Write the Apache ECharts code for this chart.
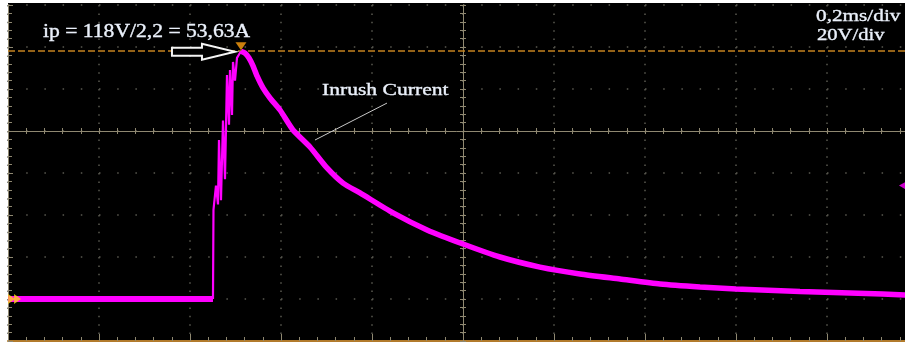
<!DOCTYPE html>
<html>
<head>
<meta charset="utf-8">
<script src="https://cdn.jsdelivr.net/npm/echarts@6/dist/echarts.min.js"></script>
<style>
  html, body { margin: 0; padding: 0; background: #ffffff; }
  #scope { width: 905px; height: 344px; }
</style>
</head>
<body>
<div id="scope"></div>
<script>
// Inrush current capture: 0.2 ms/div horizontally, 20 V/div vertically (shunt 2.2 ohm)

// Flat trace before switch-on (time in ms, voltage in V)
const baselineT = [0, 0.4505];
const baselineV = [0, 0];

// Bouncing contact burst on the rising edge
const burstT = [0.4505, 0.4516, 0.4571, 0.4615, 0.4637, 0.4681, 0.4725, 0.4769, 0.4813, 0.4857, 0.4879, 0.4923, 0.4945, 0.4989, 0.5033, 0.512];
const burstV = [0, 42.4, 54, 45, 75.7, 47, 85, 57, 106.7, 83, 109, 87.6, 112.9, 104, 114.8, 118];

// Peak and exponential-like decay
const decayT = [0.512, 0.5209, 0.5297, 0.5385, 0.5473, 0.5604, 0.5758, 0.5978, 0.6264, 0.6637, 0.7011, 0.7363, 0.7736, 0.8462, 0.9209, 1.0, 1.0813, 1.1692, 1.2571, 1.3451, 1.433, 1.5209, 1.6, 1.7407, 1.8505, 2.0];
const decayV = [118, 117.1, 114.8, 111, 106.2, 100.5, 95.7, 90, 80.5, 72.4, 62.4, 55.2, 50.5, 41, 32.9, 26.2, 20, 15.2, 11.9, 9.5, 7.1, 5.7, 4.8, 3.6, 2.9, 1.7];

// Cursor / readouts
const peakTime = 0.512;
const peakVolts = 118;
const triggerLevel = 54;
const triggerMarkTime = 1.968;
const groundMarkTime = [0.008, 0.021];
const leaderFrom = [0.6747, 75.7];
const leaderTo = [0.833, 93.3];
const peakText = 'ip = 118V/2,2 = 53,63A';
const traceName = 'Inrush Current';
const timeBase = '0,2ms/div';
const voltScale = '20V/div';

// Axis ranges (divisions)
const tMin = 0, tMax = 2, tStep = 0.2;
const vMin = -20, vMax = 140, vStep = 20;

const zip = (a, b) => a.map((v, i) => [v, b[i]]);

const graticule = '#8f8871';
const dotColor = '#5a5950';
const trace = '#ff00ff';
const textColor = '#eaf0fa';
const serif = '"Liberation Serif", "DejaVu Serif", serif';

function hiddenAxisBits() {
  return { axisLabel: { show: false }, splitLine: { show: false } };
}

function caption(text, x, y, size, sx) {
  return {
    type: 'text', x: x, y: y, scaleX: sx, z: 20,
    style: { text: text, font: size + 'px ' + serif, fill: textColor, stroke: textColor, lineWidth: 0.35 }
  };
}

const chart = echarts.init(document.getElementById('scope'), null, { renderer: 'canvas' });

const option = {
  backgroundColor: '#ffffff',
  animation: false,
  grid: {
    left: 8, top: 5, width: 910, height: 336,
    outerBoundsMode: 'none', containLabel: false,
    show: true, backgroundColor: '#000000', borderWidth: 0
  },
  xAxis: [
    { // frame bottom edge + dotted vertical graticule
      type: 'value', min: tMin, max: tMax, interval: tStep, position: 'bottom',
      axisLine: { show: true, onZero: false, lineStyle: { color: '#b27b2c', width: 2 } },
      axisTick: { show: true, inside: true, length: 7, lineStyle: { color: graticule } },
      minorTick: { show: true, splitNumber: 5, length: 4, lineStyle: { color: graticule } },
      axisLabel: { show: false },
      splitLine: { show: true, lineStyle: { color: dotColor, width: 1.5, type: [1.5, 6.9] } }
    },
    { // horizontal centre line, upper ticks
      type: 'value', min: tMin, max: tMax, interval: tStep, position: 'bottom', offset: -210,
      axisLine: { show: true, onZero: false, lineStyle: { color: graticule, width: 1 } },
      axisTick: { show: true, inside: true, length: 3, lineStyle: { color: graticule } },
      minorTick: { show: true, splitNumber: 5, length: 3, lineStyle: { color: graticule } },
      ...hiddenAxisBits()
    },
    { // horizontal centre line, lower ticks
      type: 'value', min: tMin, max: tMax, interval: tStep, position: 'bottom', offset: -210,
      axisLine: { show: false, onZero: false },
      axisTick: { show: true, inside: false, length: 3, lineStyle: { color: graticule } },
      minorTick: { show: true, splitNumber: 5, length: 3, lineStyle: { color: graticule } },
      ...hiddenAxisBits()
    }
  ],
  yAxis: [
    { // frame left edge + dotted horizontal graticule
      type: 'value', min: vMin, max: vMax, interval: vStep, position: 'left',
      axisLine: { show: true, onZero: false, lineStyle: { color: graticule, width: 1 } },
      axisTick: { show: true, inside: true, length: 5, lineStyle: { color: graticule } },
      minorTick: { show: true, splitNumber: 5, length: 4, lineStyle: { color: graticule } },
      axisLabel: { show: false },
      splitLine: { show: true, lineStyle: { color: dotColor, width: 1.5, type: [1.5, 16.7] } }
    },
    { // vertical centre line, right-hand ticks
      type: 'value', min: vMin, max: vMax, interval: vStep, position: 'left', offset: -455,
      axisLine: { show: true, onZero: false, lineStyle: { color: graticule, width: 1 } },
      axisTick: { show: true, inside: true, length: 3, lineStyle: { color: graticule } },
      minorTick: { show: true, splitNumber: 5, length: 3, lineStyle: { color: graticule } },
      ...hiddenAxisBits()
    },
    { // vertical centre line, left-hand ticks
      type: 'value', min: vMin, max: vMax, interval: vStep, position: 'left', offset: -455,
      axisLine: { show: false, onZero: false },
      axisTick: { show: true, inside: false, length: 3, lineStyle: { color: graticule } },
      minorTick: { show: true, splitNumber: 5, length: 3, lineStyle: { color: graticule } },
      ...hiddenAxisBits()
    }
  ],
  series: [
    {
      name: 'baseline', type: 'line', data: zip(baselineT, baselineV),
      symbol: 'none', z: 5,
      lineStyle: { color: trace, width: 6 },
      markLine: {
        silent: true, symbol: 'none', animation: false,
        data: [
          { yAxis: peakVolts, lineStyle: { color: '#c5821f', width: 1.5, type: [7, 3] }, label: { show: false } },
          [
            { coord: leaderFrom, lineStyle: { color: '#c9c9c9', width: 1, type: 'solid' }, label: { show: false } },
            { coord: leaderTo }
          ]
        ]
      }
    },
    {
      name: 'burst', type: 'line', data: zip(burstT, burstV),
      symbol: 'none', z: 5,
      lineStyle: { color: trace, width: 2.2 }
    },
    {
      name: 'decay', type: 'line', data: zip(decayT, decayV),
      symbol: 'none', z: 5, smooth: 0.2,
      lineStyle: { color: trace, width: 5.5 }
    },
    {
      name: 'markers', type: 'scatter', z: 8, silent: true,
      data: [
        { value: [peakTime, peakVolts], symbol: 'triangle', symbolRotate: 180, symbolSize: [11, 8], symbolOffset: [0, -5], itemStyle: { color: '#ffa010' } },
        { value: [groundMarkTime[0], 0], symbol: 'triangle', symbolRotate: -90, symbolSize: [10, 7], itemStyle: { color: '#ffd21a' } },
        { value: [groundMarkTime[1], 0], symbol: 'triangle', symbolRotate: -90, symbolSize: [10, 7], itemStyle: { color: '#ffd21a' } },
        { value: [triggerMarkTime, triggerLevel], symbol: 'triangle', symbolRotate: 90, symbolSize: [10, 9], itemStyle: { color: trace } }
      ]
    }
  ],
  graphic: [
    { type: 'rect', z: -1, shape: { x: 8, y: 3, width: 897, height: 3 }, style: { fill: '#000000' } },
    caption(peakText, 43, 23, 18, 1.2),
    caption(traceName, 322, 82, 17, 1.27),
    caption(timeBase, 816, 8, 17, 1.25),
    caption(voltScale, 817, 27, 17, 1.21)
  ]
};

chart.setOption(option);

// Hollow pointer arrow aimed at the peak
const tip = chart.convertToPixel({ xAxisIndex: 0, yAxisIndex: 0 }, [peakTime, peakVolts]);
const tx = tip[0] - 6, ty = tip[1] + 0.5;
const arrowShape = [[-63, -4], [-33, -4], [-33, -8], [0, 0], [-33, 8], [-33, 4], [-63, 4]];
chart.setOption({
  graphic: option.graphic.concat([{
    type: 'polygon', z: 20,
    shape: { points: arrowShape.map(p => [tx + p[0], ty + p[1]]) },
    style: { fill: '#000000', stroke: '#f4f4f4', lineWidth: 2 }
  }])
});
</script>
</body>
</html>
